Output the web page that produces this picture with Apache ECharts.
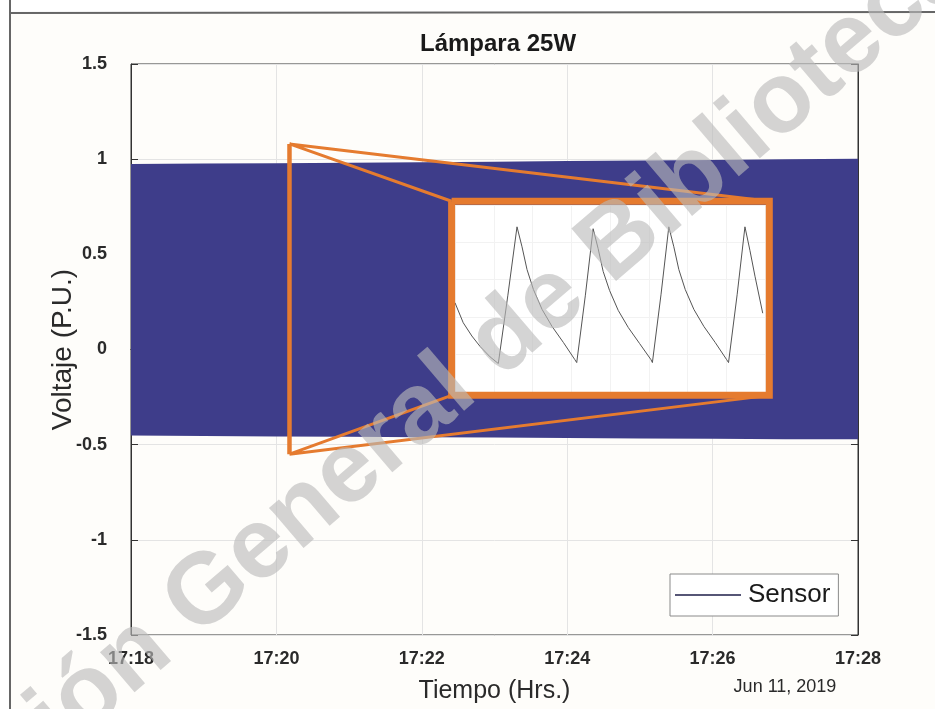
<!DOCTYPE html>
<html><head><meta charset="utf-8">
<script src="https://cdn.jsdelivr.net/npm/echarts@6/dist/echarts.min.js"></script>
<style>html,body{margin:0;padding:0;background:#ffffff}#c{width:935px;height:709px}</style>
</head><body><div id="c"></div>
<script>
// ---- data ----
const xTickLabels = {18:'17:18',20:'17:20',22:'17:22',24:'17:24',26:'17:26',28:'17:28'};
// envelope of the dense sensor signal (minutes after 17:00)
const bandMinutes = [18,19,20,21,22,23,24,25,26,27,28];
const bandUpper = [0.975,0.977,0.979,0.981,0.984,0.987,0.990,0.993,0.996,0.999,1.002];
const bandLower = [-0.452,-0.454,-0.457,-0.459,-0.461,-0.463,-0.465,-0.467,-0.469,-0.471,-0.472];
// zoom marker (main axes coordinates)
const zoomMarkMinute = 20.18;
const zoomMarkTop = 1.08;
const zoomMarkBottom = -0.55;
const insetLeftMinute = 22.41, insetRightMinute = 26.78;
const insetTopVolt = 0.779, insetBottomVolt = -0.241;
// inset waveform (ms, P.U.)
const insetMs = [0,1.8,3.7,5.5,7.7,9.5,11.6,13.6,14.7,15.8,17.2,19.1,21.3,23.8,26.3,26.7,28.6,30.3,31.4,32.5,33.9,35.8,38.0,40.5,43.0,43.3,45.2,46.9,48.0,49.1,50.5,52.4,54.6,57.1,59.6,60.0,61.9,63.6,64.7,65.8,67.5];
const insetVolts = [0.17,-0.04,-0.18,-0.29,-0.40,-0.47,0.25,0.97,0.76,0.52,0.31,0.10,-0.08,-0.25,-0.43,-0.46,0.25,0.95,0.74,0.50,0.30,0.09,-0.09,-0.26,-0.43,-0.46,0.26,0.97,0.76,0.52,0.31,0.10,-0.08,-0.25,-0.43,-0.46,0.26,0.97,0.72,0.45,0.06];

const FONT = 'Liberation Sans';
const BLUE = '#3e3d8a';
const ORANGE = '#e57b2f';

const chart = echarts.init(document.getElementById('c'));

const markerLines = [
  [zoomMarkMinute, zoomMarkTop], [insetLeftMinute, insetTopVolt], [null, null],
  [zoomMarkMinute, zoomMarkTop], [insetRightMinute, insetTopVolt], [null, null],
  [zoomMarkMinute, zoomMarkBottom], [insetLeftMinute, insetBottomVolt], [null, null],
  [zoomMarkMinute, zoomMarkBottom], [insetRightMinute, insetBottomVolt]
];
const insetFrame = [
  [insetLeftMinute, insetTopVolt], [insetRightMinute, insetTopVolt],
  [insetRightMinute, insetBottomVolt], [insetLeftMinute, insetBottomVolt],
  [insetLeftMinute, insetTopVolt]
];

const option = {
  backgroundColor: 'transparent',
  animation: false,
  title: {
    text: 'Lámpara 25W', left: 493, top: 27, textAlign: 'center',
    textStyle: {fontFamily: FONT, fontWeight: 'bold', fontSize: 24, color: '#1a1a1a'}
  },
  legend: {
    data: [{name: 'Sensor', icon: 'rect'}],
    left: 670, top: 574, itemWidth: 66, itemHeight: 1.4, itemGap: 5,
    padding: [8, 8, 8, 5],
    backgroundColor: '#ffffff', borderColor: '#8a8a8a', borderWidth: 1,
    itemStyle: {color: '#1e1e48'},
    textStyle: {fontFamily: FONT, fontSize: 26, color: '#1a1a1a', padding: [0,0,0,2]},
    selectedMode: false, z: 20
  },
  grid: [
    {left: 131, right: 77, top: 64, bottom: 73, show: true, borderColor: '#333', borderWidth: 1, backgroundColor: 'transparent'},
    {left: 455, top: 205, width: 310, height: 187, show: true, borderWidth: 0, backgroundColor: '#ffffff', z: 6}
  ],
  xAxis: [
    {type: 'value', gridIndex: 0, min: 18, max: 28, interval: 2,
     axisLine: {show: true, lineStyle: {color: '#333'}},
     axisTick: {inside: true, length: 7, lineStyle: {color: '#333'}},
     axisLabel: {fontFamily: FONT, fontWeight: 'bold', fontSize: 18, color: '#2a2a2a', margin: 15, formatter: v => xTickLabels[v]},
     splitLine: {show: true, lineStyle: {color: '#e4e4e4'}},
     name: 'Tiempo (Hrs.)', nameLocation: 'middle', nameGap: 44, nameMoveOverlap: false,
     nameTextStyle: {fontFamily: FONT, fontSize: 25, color: '#2a2a2a'}},
    {type: 'value', gridIndex: 0, position: 'top', min: 18, max: 28, interval: 2,
     axisLine: {show: true, lineStyle: {color: '#333'}},
     axisTick: {inside: true, length: 7, lineStyle: {color: '#333'}},
     axisLabel: {show: false}, splitLine: {show: false}},
    {type: 'value', gridIndex: 1, min: 0, max: 68, interval: 8.5, z: 7,
     axisLine: {show: false}, axisTick: {show: false}, axisLabel: {show: false},
     splitLine: {show: true, lineStyle: {color: '#f2f2f2'}}}
  ],
  yAxis: [
    {type: 'value', gridIndex: 0, min: -1.5, max: 1.5, interval: 0.5,
     axisLine: {show: true, lineStyle: {color: '#333'}},
     axisTick: {inside: true, length: 7, lineStyle: {color: '#333'}},
     axisLabel: {fontFamily: FONT, fontWeight: 'bold', fontSize: 18, color: '#2a2a2a', margin: 24},
     splitLine: {show: true, lineStyle: {color: '#e4e4e4'}},
     name: 'Voltaje (P.U.)', nameLocation: 'middle', nameGap: 54, nameMoveOverlap: false,
     nameTextStyle: {fontFamily: FONT, fontSize: 28, color: '#2a2a2a'}},
    {type: 'value', gridIndex: 0, position: 'right', min: -1.5, max: 1.5, interval: 0.5,
     axisLine: {show: true, lineStyle: {color: '#333'}},
     axisTick: {inside: true, length: 7, lineStyle: {color: '#333'}},
     axisLabel: {show: false}, splitLine: {show: false}},
    {type: 'value', gridIndex: 1, min: -0.77, max: 1.2, interval: 0.3942, z: 7,
     axisLine: {show: false}, axisTick: {show: false}, axisLabel: {show: false},
     splitLine: {show: true, lineStyle: {color: '#f2f2f2'}}}
  ],
  series: [
    {
      name: 'Sensor', type: 'custom', xAxisIndex: 0, yAxisIndex: 0, z: 2,
      itemStyle: {color: BLUE},
      data: bandMinutes.map((m, i) => [m, bandUpper[i], bandLower[i]]),
      encode: {x: 0, y: [1, 2]},
      clip: true,
      renderItem: function (params, api) {
        if (params.dataIndex !== 0) return null;
        const pts = [];
        for (let i = 0; i < bandMinutes.length; i++) pts.push(api.coord([bandMinutes[i], bandUpper[i]]));
        for (let i = bandMinutes.length - 1; i >= 0; i--) pts.push(api.coord([bandMinutes[i], bandLower[i]]));
        return {type: 'polygon', shape: {points: pts}, style: {fill: BLUE}};
      }
    },
    {
      name: 'zoom', type: 'line', xAxisIndex: 0, yAxisIndex: 0, z: 4,
      data: markerLines, connectNulls: false, symbol: 'none',
      lineStyle: {color: ORANGE, width: 3}, silent: true
    },
    {
      name: 'zoomBar', type: 'line', xAxisIndex: 0, yAxisIndex: 0, z: 5,
      data: [[zoomMarkMinute, zoomMarkTop], [zoomMarkMinute, zoomMarkBottom]], symbol: 'none',
      lineStyle: {color: ORANGE, width: 4.5}, silent: true
    },
    {
      name: 'inset', type: 'line', xAxisIndex: 2, yAxisIndex: 2, z: 8,
      data: insetMs.map((t, i) => [t, insetVolts[i]]), symbol: 'none',
      lineStyle: {color: '#555', width: 1}, silent: true
    },
    {
      name: 'insetFrame', type: 'line', xAxisIndex: 0, yAxisIndex: 0, z: 9,
      data: insetFrame, symbol: 'none',
      lineStyle: {color: ORANGE, width: 7, join: 'miter'}, silent: true
    }
  ],
  graphic: [
    {type: 'rect', shape: {x: 10, y: 12, width: 925, height: 697}, style: {fill: '#fefdfa'}, z: -10, silent: true},
    {type: 'line', shape: {x1: 10, y1: 0, x2: 10, y2: 709}, style: {stroke: '#666', lineWidth: 2}, z: 0},
    {type: 'line', shape: {x1: 10, y1: 13, x2: 935, y2: 12}, style: {stroke: '#666', lineWidth: 2}, z: 0},
    {type: 'text', x: 785, y: 687, style: {text: 'Jun 11, 2019', fontFamily: FONT, fontSize: 18, fill: '#2a2a2a', textAlign: 'center', textVerticalAlign: 'middle'}},
    {type: 'text', x: 405, y: 425, rotation: 0.707, z: 100, silent: true,
     style: {text: 'Dirección General de Bibliotecas', fontFamily: FONT, fontWeight: 'bold', fontSize: 100,
       fill: 'rgba(185,185,185,0.62)', textAlign: 'center', textVerticalAlign: 'middle'}}
  ]
};
chart.setOption(option);
</script></body></html>
